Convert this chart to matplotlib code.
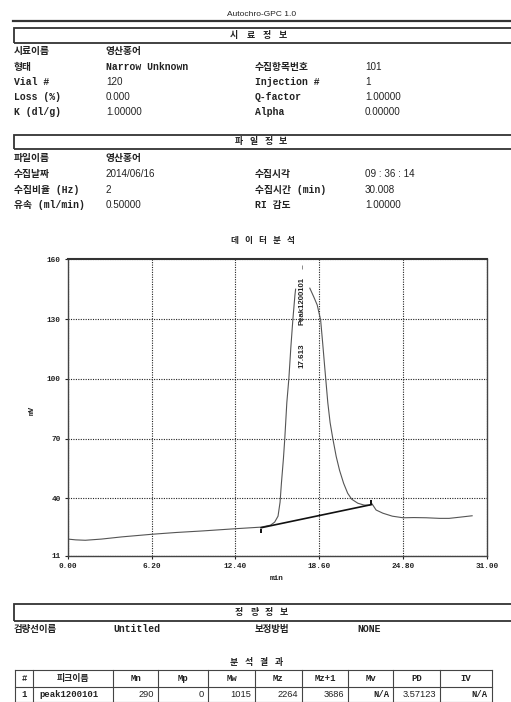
import numpy as np
import matplotlib
matplotlib.use("Agg")
import matplotlib.pyplot as plt
from matplotlib.patches import Rectangle
from matplotlib.lines import Line2D

# ---- data ----
sample_rows = [
    ("시료이름", "영산홍어", "", ""),
    ("형태", "Narrow Unknown", "수집항목번호", "101"),
    ("Vial #", "120", "Injection #", "1"),
    ("Loss (%)", "0.000", "Q-factor", "1.00000"),
    ("K (dl/g)", "1.00000", "Alpha", "0.00000"),
]
file_rows = [
    ("파일이름", "영산홍어", "", ""),
    ("수집날짜", "2014/06/16", "수집시각", "09 : 36 : 14"),
    ("수집비율 (Hz)", "2", "수집시간 (min)", "30.008"),
    ("유속 (ml/min)", "0.50000", "RI 감도", "1.00000"),
]
quant_row = ("검량선이름", "Untitled", "보정방법", "NONE")

table_header = ["#", "피크이름", "Mn", "Mp", "Mw", "Mz", "Mz+1", "Mv", "PD", "IV"]
table_row = ["1", "peak1200101", "290", "0", "1015", "2264", "3686", "N/A", "3.57123", "N/A"]

# chromatogram trace (min, mV); apex is hidden behind the peak label
t_min = [0.0, 0.6, 1.3, 2.5, 4.0, 6.2, 8.0, 10.0, 12.4, 14.3, 15.0, 15.3, 15.55,
         15.7, 15.8, 15.95, 16.05, 16.2, 16.35, 16.5, 16.65, 16.8, 16.85,
         17.35,
         17.9, 18.2, 18.45, 18.7, 18.85, 19.0, 19.23, 19.4, 19.6, 19.85, 20.1,
         20.4, 20.7, 21.0, 21.45, 21.9, 22.3, 22.5, 22.8, 23.3, 24.0, 24.8,
         25.6, 26.5, 27.5, 28.2, 29.0, 29.9]
signal_mv = [19.5, 19.1, 18.9, 19.5, 20.6, 21.9, 22.8, 23.6, 24.7, 25.5, 26.5, 28.0, 31.0,
             38.0, 47.5, 60.0, 70.0, 88.0, 100.0, 116.0, 130.0, 142.0, 145.0,
             np.nan,
             145.5, 141.0, 137.0, 129.5, 118.0, 106.0, 88.0, 78.0, 70.0, 61.0, 54.0,
             47.5, 42.5, 39.5, 37.5, 36.6, 36.5, 37.2, 34.1, 32.5, 31.0, 30.2,
             30.3, 30.2, 29.9, 29.9, 30.5, 31.2]

baseline_t = [14.3, 22.45]
baseline_mv = [25.2, 36.8]
baseline_mark_mv = [23.8, 38.0]

peak_name = "Peak1200101"
peak_time = 17.613
peak_tick_mv = 156

x_ticks = [0.0, 6.2, 12.4, 18.6, 24.8, 31.0]
y_ticks = [11, 40, 70, 100, 130, 160]

# ---- page helpers (pixel coords of the 511x702 page) ----
W, H = 511, 702
fig = plt.figure(figsize=(W / 100, H / 100), dpi=100)

MONO = ["Liberation Mono", "Noto Sans CJK KR"]
SANS = ["Liberation Sans", "Noto Sans CJK KR"]
KOR = ["Noto Sans CJK KR", "DejaVu Sans"]


def fx(x):
    return x / W


def fy(y):
    return 1 - y / H


def put(x, y, s, family=MONO, size=7.0, ha="left", weight="bold", color="#222222", rot=0):
    if s == "":
        return
    fig.text(fx(x), fy(y), s, family=family, fontsize=size, ha=ha, va="center",
             fontweight=weight, color=color, rotation=rot)


def spaced(xc, y, word, step, size=6.4):
    # report headings are printed with wide letter spacing
    x0 = xc - step * (len(word) - 1) / 2
    for k, ch in enumerate(word):
        put(x0 + k * step, y, ch, family=KOR, size=size, ha="center")


def section_box(y0, y1, title, xc, step):
    fig.add_artist(Rectangle((fx(14), fy(y1)), fx(520) - fx(14), fy(y0) - fy(y1),
                             transform=fig.transFigure, fill=False,
                             edgecolor="#333333", linewidth=1.3))
    spaced(xc, (y0 + y1) / 2, title, step)


def cell(x, y, s):
    if s == "":
        return
    if s[0].isdigit():
        put(x, y, s, family=SANS, size=7.1, weight="normal")
    else:
        put(x, y, s, size=7.0)


def info_rows(rows, ys, xs):
    for row, y in zip(rows, ys):
        for k in range(4):
            cell(xs[k], y, row[k])


# header
put(262, 14, "Autochro-GPC 1.0", family=SANS, size=6, ha="center", weight="normal")
fig.add_artist(Line2D([fx(13), fx(511)], [fy(21), fy(21)], transform=fig.transFigure,
                      color="#333333", linewidth=1.6))

section_box(27.5, 43, "시료정보", 258.5, 16.3)
info_rows(sample_rows, [51, 67, 82, 97, 112], [14, 106, 255, 365])

section_box(134.5, 149, "파일정보", 261, 14.7)
info_rows(file_rows, [158, 174, 190, 205], [14, 106, 255, 365])

spaced(262.5, 240, "데이터분석", 14.2, size=6.2)

# ---- chromatogram ----
ax = fig.add_axes([fx(67.7), fy(556), fx(487) - fx(67.7), fy(259.3) - fy(556)])
ax.plot(t_min, signal_mv, color="#555555", linewidth=0.8)
ax.plot(baseline_t, baseline_mv, color="#111111", linewidth=1.2)
ax.plot(baseline_t, baseline_mark_mv, linestyle="none", marker="|", markersize=2.5,
        markeredgewidth=1.4, color="#111111")
ax.plot([17.3], [peak_tick_mv], linestyle="none", marker="|", markersize=3,
        markeredgewidth=0.6, color="#777777")
ax.text(17.3, 139, peak_name, rotation=90, ha="center", va="center",
        family=SANS, fontsize=5.6, fontweight="bold", color="#222222")
ax.text(17.3, 111.5, "%.3f" % peak_time, rotation=90, ha="center", va="center",
        family=SANS, fontsize=5.8, fontweight="bold", color="#222222")

ax.set_xlim(0, 31)
ax.set_ylim(11, 160)
ax.set_xticks(x_ticks)
ax.set_xticklabels(["%.2f" % v for v in x_ticks])
ax.set_yticks(y_ticks)
ax.set_yticklabels([str(v) for v in y_ticks])
ax.grid(color="#222222", linestyle=(0, (1, 1.2)), linewidth=0.8)
ax.tick_params(length=2, width=0.8, pad=3, labelsize=5.6, colors="#222222")
for lab in ax.get_xticklabels() + ax.get_yticklabels():
    lab.set_family(MONO)
    lab.set_fontweight("bold")
for side in ["left", "right", "bottom"]:
    ax.spines[side].set_color("#444444")
    ax.spines[side].set_linewidth(1.0)
ax.spines["top"].set_color("#333333")
ax.spines["top"].set_linewidth(1.5)

put(32, 410, "mV", size=5.5, ha="center", rot=90)
put(277, 578, "min", size=5.6, ha="center")

# ---- quantitation + result table ----
section_box(604, 620.5, "정량정보", 261.5, 15)
put(14, 629, quant_row[0], family=KOR, size=6.8)
put(113, 629, quant_row[1], size=7.0)
put(255, 629, quant_row[2], family=KOR, size=6.8)
put(357, 629, quant_row[3], size=7.0)

spaced(256.5, 662, "분석결과", 15)

col_x = [15, 33.3, 113.3, 158.3, 208.3, 255, 301.7, 348.3, 393.3, 440, 491.7]
row_y = [670, 686.5, 701.5]
for x in col_x:
    fig.add_artist(Line2D([fx(x), fx(x)], [fy(row_y[0]), fy(row_y[-1])],
                          transform=fig.transFigure, color="#444444", linewidth=0.8))
for y in row_y:
    fig.add_artist(Line2D([fx(col_x[0]), fx(col_x[-1])], [fy(y), fy(y)],
                          transform=fig.transFigure, color="#444444", linewidth=0.8))

for i in range(len(table_header)):
    cx = (col_x[i] + col_x[i + 1]) / 2
    put(cx, 678.5, table_header[i], size=6.4, ha="center")
    val = table_row[i]
    if i == 0:
        put(cx, 694.5, val, size=6.4, ha="center")
    elif i == 1:
        put(col_x[i] + 6, 694.5, val, size=6.4)
    elif val[0].isdigit():
        put(col_x[i + 1] - 4, 694.5, val, family=SANS, size=6.7, ha="right",
            weight="normal")
    else:
        put(col_x[i + 1] - 4, 694.5, val, size=6.4, ha="right")

plt.savefig("out.png", dpi=100)
